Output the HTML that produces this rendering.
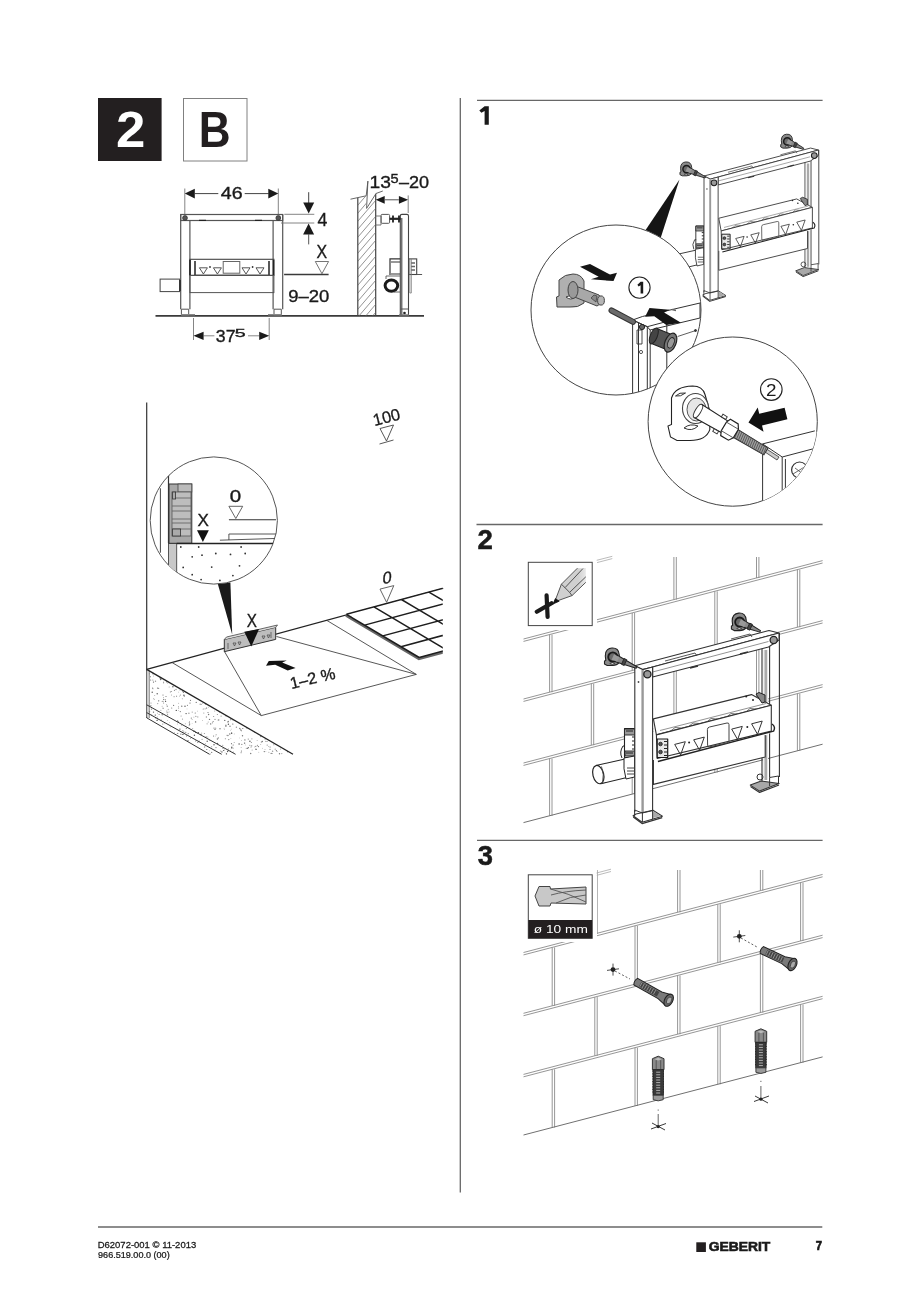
<!DOCTYPE html>
<html><head><meta charset="utf-8">
<style>
html,body{margin:0;padding:0;background:#fff;}
body{width:920px;height:1291px;overflow:hidden;position:relative;}
svg{position:absolute;left:0;top:0;will-change:transform;}
text{font-family:"Liberation Sans",sans-serif;}
</style></head>
<body>
<svg width="920" height="1291" viewBox="0 0 920 1291">
<defs><clipPath id="wallclip"><path d="M357.8 198 L366.3 196 L366.6 208.4 L375.7 194 V316 H357.8z"/></clipPath>
<clipPath id="circA"><circle cx="213.8" cy="520.5" r="63.6"/></clipPath>
<clipPath id="tileclip"><rect x="300" y="560" width="142.8" height="120"/></clipPath>
<clipPath id="slabclip"><path d="M149 670.9 L293 754.3 L149 754.3z"/></clipPath>
<pattern id="stip" width="7" height="7" patternUnits="userSpaceOnUse"><circle cx="1" cy="1" r="0.45" fill="#777"/><circle cx="4.5" cy="3.5" r="0.45" fill="#888"/><circle cx="2.5" cy="5.8" r="0.4" fill="#999"/></pattern>
<clipPath id="c1clip"><circle cx="616" cy="310" r="85"/></clipPath><clipPath id="c2clip"><circle cx="732.7" cy="421.6" r="84.6"/></clipPath>
<clipPath id="wall2clip"><rect x="523" y="550" width="300" height="280"/></clipPath>
<clipPath id="wall3clip"><rect x="523" y="865" width="300" height="275"/></clipPath></defs>
<rect x="98" y="98" width="63.6" height="63" fill="#231f20"/>
<text transform="translate(115.97 147.40) scale(1.065 1)" font-size="49.55" font-weight="bold" fill="#fff" stroke="none" >2</text>
<rect x="183.5" y="98.5" width="63.5" height="62.5" fill="none" stroke="#808080" stroke-width="1"/>
<text transform="translate(198.85 147.40) scale(0.877 1)" font-size="50.29" font-weight="bold" fill="#231f20" stroke="none" >B</text>
<path d="M460.3 98 V1192.6" stroke="#676767" stroke-width="1.3" fill="none"/>
<path d="M477 100.3 H822.6" stroke="#676767" stroke-width="1.3" fill="none"/>
<path d="M476.5 524.5 H822.6" stroke="#676767" stroke-width="1.3" fill="none"/>
<path d="M477 840.3 H822.6" stroke="#676767" stroke-width="1.3" fill="none"/>
<path d="M98 1227 H822.3" stroke="#676767" stroke-width="1.3" fill="none"/>
<path d="M484.6 106.2 H488.8 V124.8 H484.6 V111.1 L481.4 112.8 L479.3 110.5 Z" fill="#1a1a1a"/>
<text transform="translate(477.44 549.40) scale(1.021 1)" font-size="27.07" font-weight="bold" fill="#1a1a1a" stroke="#1a1a1a" stroke-width="0.5">2</text>
<text transform="translate(477.67 865.19) scale(1.006 1)" font-size="27.20" font-weight="bold" fill="#1a1a1a" stroke="#1a1a1a" stroke-width="0.5">3</text>
<text transform="translate(97.72 1248.01) scale(1.066 1)" font-size="8.90" fill="#1a1a1a" stroke="#1a1a1a" stroke-width="0.25">D62072-001 © 11-2013</text>
<text transform="translate(98.07 1258.12) scale(1.073 1)" font-size="8.47" fill="#1a1a1a" stroke="#1a1a1a" stroke-width="0.25">966.519.00.0 (00)</text>
<rect x="696.3" y="1242.3" width="9.6" height="9.7" fill="#231f20"/>
<text transform="translate(708.63 1251.48) scale(1.117 1)" font-size="12.43" font-weight="bold" fill="#1a1a1a" stroke="#1a1a1a" stroke-width="0.6">GEBERIT</text>
<text transform="translate(815.81 1250.40) scale(0.904 1)" font-size="12.50" font-weight="bold" fill="#1a1a1a" stroke="#1a1a1a" stroke-width="0.7">7</text>

<g id="dimdraw" fill="none" stroke="#3a3a3a" stroke-width="1">
  <line x1="155.5" y1="315.9" x2="424" y2="315.9" stroke="#3a3a3a" stroke-width="1.6"/>
  <rect x="180.7" y="214.5" width="102" height="6" stroke="#555" stroke-width="1.2"/>
  <path d="M180.7 214.5 V309.2 M189.9 220.5 V309.2 M273.1 220.5 V309.2 M282.7 214.5 V309.2" stroke="#555" stroke-width="1.2"/>
  <path d="M181.4 309.2 h7.3 v6 h-7.3z M274 309.2 h7.3 v6 h-7.3z" stroke="#555" stroke-width="1"/>
  <path d="M181 314.8 h14 M268 314.8 h14" stroke="#888" stroke-width="1.4"/>
  <circle cx="185" cy="218" r="2.4" fill="#555" stroke="#333" stroke-width="0.8"/>
  <circle cx="278.3" cy="218" r="2.4" fill="#555" stroke="#333" stroke-width="0.8"/>
  <path d="M199 220.3 h7 M255 220.3 h7" stroke="#222" stroke-width="1.3"/>
  <rect x="189.9" y="259.3" width="84" height="16.1" stroke="#444" stroke-width="1.1"/>
  <line x1="196" y1="275.4" x2="268" y2="275.4" stroke="#222" stroke-width="1.4"/>
  <rect x="189.9" y="275.4" width="84" height="17.2" stroke="#555" stroke-width="1"/>
  <rect x="223.2" y="261.5" width="16.6" height="11.7" stroke="#666" stroke-width="1"/>
  <path d="M199.4 267.8 h8 l-4 6.2z M213.4 267.8 h8 l-4 6.2z M242 267.8 h8 l-4 6.2z M256 267.8 h8 l-4 6.2z" stroke="#444" stroke-width="0.9"/>
  <circle cx="210" cy="267" r="0.9" fill="#333" stroke="none"/>
  <circle cx="252.6" cy="267" r="0.9" fill="#333" stroke="none"/>
  <path d="M190 260 v15 M195 261 v14 M269 261 v14 M273.5 260 v15" stroke="#222" stroke-width="1.5"/>
  <rect x="160.1" y="279.1" width="19.6" height="12.5" stroke="#444" stroke-width="1"/>
  <path d="M180 280 v11" stroke="#222" stroke-width="1.4"/>
  <path d="M184.8 188.5 V214 M278.3 188.5 V214" stroke="#666" stroke-width="0.8"/>
  <path d="M194.8 193.6 H218.3 M244.7 193.6 H268.7" stroke="#444" stroke-width="1"/>
  <path d="M184.8 193.6 l10 -4.8 v9.6z M278.3 193.6 l-10 -4.8 v9.6z" fill="#1a1a1a" stroke="none"/>
  <path d="M284.3 214.3 H314.3 M281 223 H314.3" stroke="#777" stroke-width="0.9"/>
  <path d="M308.7 192.2 V203" stroke="#444" stroke-width="1"/>
  <path d="M303.2 202.4 h11 l-5.5 11z M303.1 234.5 h11 l-5.5 -11.1z" fill="#1a1a1a" stroke="none"/>
  <path d="M308.7 234 V244.4" stroke="#555" stroke-width="1"/>
  <path d="M315.3 261.5 h13.3 l-6.65 12.2z" stroke="#666" stroke-width="0.9"/>
  <path d="M284.1 274.6 H328.6" stroke="#3a3a3a" stroke-width="1.5"/>
  <path d="M193.5 318 V340 M269.2 318 V340" stroke="#777" stroke-width="0.9"/>
  <path d="M203.6 335.8 H214.4 M248 335.8 H259.3" stroke="#888" stroke-width="1"/>
  <path d="M193.5 335.8 l10.1 -4.1 v8.2z M269.2 335.8 l-10 -4.1 v8.2z" fill="#1a1a1a" stroke="none"/>
  <path d="M357.8 197.8 V315.9 M375.7 193.8 V315.9" stroke="#444" stroke-width="1.2"/>
  <path d="M350.5 199.2 L366.2 195.8 L367.9 181.1 L366.6 208.4 L376 193.5 L382.8 191" stroke="#555" stroke-width="0.9"/>
  <g stroke="#666" stroke-width="0.7" clip-path="url(#wallclip)"><path d="M340 210 l60 -70 M340 218 l60 -70 M340 226 l60 -70 M340 234 l60 -70 M340 242 l60 -70 M340 250 l60 -70 M340 258 l60 -70 M340 266 l60 -70 M340 274 l60 -70 M340 282 l60 -70 M340 290 l60 -70 M340 298 l60 -70 M340 306 l60 -70 M340 314 l60 -70 M340 322 l60 -70 M340 330 l60 -70 M340 338 l60 -70 M340 346 l60 -70 M340 354 l60 -70 M340 362 l60 -70 M340 370 l60 -70 M340 378 l60 -70 M340 386 l60 -70 M340 394 l60 -70"/></g>
  <path d="M375.7 199.8 l9 -3.9 v7.8z M408.2 199.8 l-9.3 -3.9 v7.8z" fill="#1a1a1a" stroke="none"/>
  <path d="M384.7 199.8 H398.9" stroke="#555" stroke-width="1"/>
  <path d="M408.2 195.4 V213" stroke="#777" stroke-width="0.9"/>
  <path d="M400.3 315 V216 q0 -1.6 1.6 -1.6 h5 q1.6 0 1.6 1.6 V315 M401.8 218 V315" stroke="#444" stroke-width="1.1"/>
  <rect x="381.1" y="214.4" width="8.5" height="8.9" rx="1" stroke="#555" stroke-width="1"/>
  <path d="M376 216 h5 v9 h-5" stroke="#666" stroke-width="0.9"/>
  <path d="M389.6 218.8 h11" stroke="#222" stroke-width="2.2"/>
  <path d="M393 215.5 v7 M399 215.5 v7" stroke="#222" stroke-width="1.8"/>
  <path d="M390 275 V258.9 h10.3 M391 262 h9 M391 274 h9" stroke="#333" stroke-width="1.2"/>
  <ellipse cx="391.4" cy="285.6" rx="6.3" ry="5.6" stroke="#1a1a1a" stroke-width="3"/>
  <path d="M386 279 v-3 h14 M394 292 h6" stroke="#555" stroke-width="0.9"/>
  <rect x="408.7" y="258.9" width="8" height="15.6" stroke="#444" stroke-width="1.1"/>
  <path d="M411 263 h4 M411 266.5 h4 M411 270 h4" stroke="#666" stroke-width="1.4"/>
  <path d="M416.7 274.5 h5.4" stroke="#555" stroke-width="1"/>
  <path d="M409.8 259 V293 h1.5 V259" stroke="#777" stroke-width="0.8"/>
  <path d="M400.8 309 h7.5" stroke="#555" stroke-width="1"/><circle cx="404.5" cy="313" r="1.3" fill="#222" stroke="none"/><path d="M399 315 h10" stroke="#777" stroke-width="1.4"/>
  <text transform="translate(220.75 199.34) scale(1.187 1)" font-size="16.53" fill="#1a1a1a" stroke="#1a1a1a" stroke-width="0.35">46</text>
  <text transform="translate(317.39 225.70) scale(0.996 1)" font-size="17.73" fill="#1a1a1a" stroke="#1a1a1a" stroke-width="0.35">4</text>
  <text transform="translate(316.44 258.00) scale(0.874 1)" font-size="18.17" fill="#1a1a1a" stroke="#1a1a1a" stroke-width="0.35">X</text>
  <text transform="translate(288.13 302.03) scale(1.075 1)" font-size="17.23" fill="#1a1a1a" stroke="#1a1a1a" stroke-width="0.35">9–20</text>
  <text transform="translate(215.83 341.84) scale(1.052 1)" font-size="16.81" fill="#1a1a1a" stroke="#1a1a1a" stroke-width="0.35">37</text>
  <text transform="translate(234.81 336.69) scale(1.669 1)" font-size="11.75" fill="#1a1a1a" stroke="#1a1a1a" stroke-width="0.35">5</text>
  <text transform="translate(369.53 187.84) scale(1.165 1)" font-size="16.53" fill="#1a1a1a" stroke="#1a1a1a" stroke-width="0.35">13</text>
  <text transform="translate(390.52 183.08) scale(1.209 1)" font-size="12.04" fill="#1a1a1a" stroke="#1a1a1a" stroke-width="0.35">5</text>
  <text transform="translate(398.90 187.84) scale(1.092 1)" font-size="16.53" fill="#1a1a1a" stroke="#1a1a1a" stroke-width="0.35">–20</text>
</g>
<g fill="none" stroke="#2a2a2a" stroke-width="1">
<path d="M146.7 402.5 V718" stroke="#333" stroke-width="1.2"/>
<path d="M146.7 670 V718 M149.2 671 V718" stroke="#444" stroke-width="0.8"/>
<rect x="146.7" y="670.5" width="2.5" height="47" fill="#ccc" stroke="none"/>
<g stroke="none"><circle cx="157.4" cy="713.1" r="0.4" fill="#555"/><circle cx="162.1" cy="706.2" r="0.4" fill="#555"/><circle cx="157.9" cy="719.6" r="0.4" fill="#555"/><circle cx="166.0" cy="696.6" r="0.5" fill="#555"/><circle cx="232.8" cy="724.0" r="0.6" fill="#555"/><circle cx="157.6" cy="688.1" r="0.7" fill="#777"/><circle cx="216.0" cy="747.6" r="0.6" fill="#777"/><circle cx="192.2" cy="712.1" r="0.6" fill="#999"/><circle cx="213.6" cy="721.5" r="0.4" fill="#555"/><circle cx="209.7" cy="750.8" r="0.4" fill="#999"/><circle cx="231.5" cy="743.7" r="0.6" fill="#777"/><circle cx="270.0" cy="749.4" r="0.7" fill="#999"/><circle cx="190.0" cy="703.0" r="0.6" fill="#555"/><circle cx="180.4" cy="694.9" r="0.5" fill="#777"/><circle cx="205.3" cy="743.3" r="0.4" fill="#555"/><circle cx="213.7" cy="716.6" r="0.5" fill="#777"/><circle cx="276.3" cy="750.5" r="0.5" fill="#555"/><circle cx="174.4" cy="690.3" r="0.5" fill="#555"/><circle cx="218.8" cy="719.9" r="0.6" fill="#777"/><circle cx="149.6" cy="705.8" r="0.6" fill="#999"/><circle cx="230.6" cy="750.1" r="0.4" fill="#777"/><circle cx="205.5" cy="704.1" r="0.4" fill="#777"/><circle cx="158.7" cy="688.3" r="0.5" fill="#555"/><circle cx="163.6" cy="701.2" r="0.4" fill="#555"/><circle cx="170.4" cy="691.9" r="0.6" fill="#999"/><circle cx="271.2" cy="753.4" r="0.7" fill="#777"/><circle cx="163.7" cy="699.4" r="0.6" fill="#777"/><circle cx="225.0" cy="752.2" r="0.4" fill="#999"/><circle cx="181.1" cy="716.0" r="0.6" fill="#999"/><circle cx="265.1" cy="738.9" r="0.5" fill="#555"/><circle cx="153.2" cy="673.3" r="0.6" fill="#777"/><circle cx="186.3" cy="728.5" r="0.6" fill="#777"/><circle cx="160.6" cy="679.5" r="0.7" fill="#555"/><circle cx="197.6" cy="711.1" r="0.4" fill="#777"/><circle cx="241.6" cy="740.3" r="0.4" fill="#777"/><circle cx="264.3" cy="751.6" r="0.7" fill="#777"/><circle cx="206.8" cy="749.6" r="0.5" fill="#555"/><circle cx="153.0" cy="688.7" r="0.5" fill="#999"/><circle cx="195.9" cy="716.2" r="0.5" fill="#555"/><circle cx="215.0" cy="719.4" r="0.7" fill="#999"/><circle cx="167.8" cy="683.6" r="0.4" fill="#777"/><circle cx="169.4" cy="722.4" r="0.4" fill="#999"/><circle cx="260.8" cy="744.3" r="0.4" fill="#555"/><circle cx="163.1" cy="708.5" r="0.4" fill="#555"/><circle cx="212.8" cy="721.8" r="0.5" fill="#999"/><circle cx="188.9" cy="713.2" r="0.7" fill="#999"/><circle cx="275.2" cy="749.2" r="0.6" fill="#999"/><circle cx="179.6" cy="696.1" r="0.4" fill="#555"/><circle cx="168.8" cy="709.8" r="0.4" fill="#777"/><circle cx="250.7" cy="753.5" r="0.7" fill="#777"/><circle cx="162.3" cy="701.4" r="0.6" fill="#999"/><circle cx="215.0" cy="729.4" r="0.7" fill="#777"/><circle cx="267.0" cy="741.5" r="0.6" fill="#777"/><circle cx="231.2" cy="729.1" r="0.4" fill="#777"/><circle cx="197.8" cy="716.9" r="0.6" fill="#999"/><circle cx="167.6" cy="714.7" r="0.5" fill="#555"/><circle cx="178.6" cy="708.0" r="0.5" fill="#777"/><circle cx="176.3" cy="710.4" r="0.7" fill="#555"/><circle cx="277.0" cy="751.5" r="0.6" fill="#999"/><circle cx="180.0" cy="690.1" r="0.5" fill="#999"/><circle cx="239.1" cy="744.0" r="0.7" fill="#555"/><circle cx="203.8" cy="713.0" r="0.6" fill="#999"/><circle cx="183.9" cy="695.3" r="0.7" fill="#555"/><circle cx="171.7" cy="708.0" r="0.6" fill="#777"/><circle cx="287.5" cy="751.7" r="0.6" fill="#555"/><circle cx="189.2" cy="725.4" r="0.5" fill="#999"/><circle cx="192.1" cy="723.3" r="0.4" fill="#999"/><circle cx="230.9" cy="738.5" r="0.4" fill="#999"/><circle cx="233.1" cy="745.1" r="0.5" fill="#555"/><circle cx="153.5" cy="682.0" r="0.6" fill="#555"/><circle cx="203.2" cy="708.5" r="0.4" fill="#999"/><circle cx="151.7" cy="715.1" r="0.5" fill="#777"/><circle cx="187.0" cy="708.9" r="0.4" fill="#999"/><circle cx="162.2" cy="714.7" r="0.7" fill="#777"/><circle cx="265.5" cy="741.2" r="0.5" fill="#999"/><circle cx="177.6" cy="720.8" r="0.6" fill="#777"/><circle cx="242.8" cy="728.5" r="0.5" fill="#555"/><circle cx="218.5" cy="711.3" r="0.4" fill="#999"/><circle cx="180.3" cy="711.6" r="0.6" fill="#777"/><circle cx="216.1" cy="734.7" r="0.5" fill="#777"/><circle cx="151.5" cy="709.1" r="0.7" fill="#777"/><circle cx="204.7" cy="747.1" r="0.5" fill="#555"/><circle cx="224.5" cy="750.1" r="0.5" fill="#999"/><circle cx="149.5" cy="711.8" r="0.7" fill="#777"/><circle cx="257.1" cy="740.6" r="0.4" fill="#555"/><circle cx="251.7" cy="745.8" r="0.6" fill="#777"/><circle cx="202.6" cy="703.6" r="0.4" fill="#777"/><circle cx="194.4" cy="735.2" r="0.7" fill="#555"/><circle cx="280.5" cy="749.1" r="0.5" fill="#999"/><circle cx="208.2" cy="722.0" r="0.5" fill="#999"/><circle cx="173.6" cy="705.4" r="0.6" fill="#777"/><circle cx="185.8" cy="732.3" r="0.6" fill="#777"/><circle cx="279.5" cy="753.7" r="0.7" fill="#777"/><circle cx="169.1" cy="687.0" r="0.4" fill="#555"/><circle cx="183.4" cy="692.4" r="0.5" fill="#555"/><circle cx="208.6" cy="714.5" r="0.7" fill="#777"/><circle cx="167.1" cy="712.8" r="0.5" fill="#555"/><circle cx="206.6" cy="708.0" r="0.6" fill="#555"/><circle cx="167.3" cy="706.3" r="0.7" fill="#999"/><circle cx="213.6" cy="736.0" r="0.5" fill="#555"/><circle cx="249.9" cy="741.3" r="0.7" fill="#555"/><circle cx="185.3" cy="723.8" r="0.4" fill="#555"/><circle cx="159.1" cy="714.5" r="0.5" fill="#777"/><circle cx="186.6" cy="736.6" r="0.4" fill="#555"/><circle cx="226.4" cy="753.7" r="0.6" fill="#777"/><circle cx="241.8" cy="744.4" r="0.7" fill="#999"/><circle cx="182.8" cy="691.5" r="0.7" fill="#999"/><circle cx="181.8" cy="706.2" r="0.6" fill="#555"/><circle cx="220.0" cy="728.8" r="0.7" fill="#777"/><circle cx="180.9" cy="734.1" r="0.6" fill="#555"/><circle cx="176.0" cy="689.5" r="0.7" fill="#999"/><circle cx="157.1" cy="720.4" r="0.7" fill="#555"/><circle cx="157.7" cy="703.6" r="0.6" fill="#999"/><circle cx="172.9" cy="686.8" r="0.7" fill="#555"/><circle cx="193.9" cy="731.2" r="0.6" fill="#777"/><circle cx="160.3" cy="677.7" r="0.7" fill="#555"/><circle cx="229.8" cy="734.0" r="0.7" fill="#777"/><circle cx="195.6" cy="732.2" r="0.7" fill="#555"/><circle cx="203.1" cy="709.5" r="0.4" fill="#777"/><circle cx="248.3" cy="747.7" r="0.6" fill="#555"/><circle cx="265.0" cy="749.6" r="0.4" fill="#555"/><circle cx="260.8" cy="736.6" r="0.7" fill="#777"/><circle cx="168.1" cy="712.2" r="0.4" fill="#999"/><circle cx="192.7" cy="728.4" r="0.5" fill="#999"/><circle cx="215.4" cy="736.1" r="0.4" fill="#999"/><circle cx="177.4" cy="733.5" r="0.5" fill="#777"/><circle cx="161.1" cy="679.0" r="0.7" fill="#999"/><circle cx="168.1" cy="709.3" r="0.5" fill="#999"/><circle cx="226.6" cy="735.2" r="0.4" fill="#777"/><circle cx="191.3" cy="718.1" r="0.6" fill="#777"/><circle cx="217.4" cy="739.0" r="0.7" fill="#777"/><circle cx="154.8" cy="695.4" r="0.4" fill="#555"/><circle cx="233.0" cy="748.2" r="0.6" fill="#999"/><circle cx="186.4" cy="735.6" r="0.4" fill="#555"/><circle cx="240.8" cy="729.9" r="0.6" fill="#555"/><circle cx="154.4" cy="699.2" r="0.4" fill="#555"/><circle cx="254.4" cy="746.9" r="0.4" fill="#777"/><circle cx="153.5" cy="712.1" r="0.7" fill="#555"/><circle cx="207.8" cy="737.1" r="0.5" fill="#999"/><circle cx="225.9" cy="725.2" r="0.7" fill="#999"/><circle cx="205.3" cy="704.6" r="0.4" fill="#777"/><circle cx="228.4" cy="724.2" r="0.7" fill="#555"/><circle cx="231.5" cy="748.0" r="0.5" fill="#555"/><circle cx="204.3" cy="733.5" r="0.5" fill="#777"/><circle cx="204.9" cy="746.1" r="0.5" fill="#999"/><circle cx="207.2" cy="741.2" r="0.7" fill="#555"/><circle cx="205.1" cy="708.8" r="0.6" fill="#999"/><circle cx="209.5" cy="719.4" r="0.7" fill="#777"/><circle cx="182.9" cy="734.4" r="0.7" fill="#555"/><circle cx="158.7" cy="700.8" r="0.6" fill="#555"/><circle cx="194.2" cy="730.8" r="0.4" fill="#555"/><circle cx="257.3" cy="745.3" r="0.5" fill="#555"/><circle cx="272.4" cy="753.7" r="0.4" fill="#555"/><circle cx="190.5" cy="738.3" r="0.5" fill="#999"/><circle cx="262.5" cy="748.2" r="0.4" fill="#777"/><circle cx="195.6" cy="721.9" r="0.7" fill="#555"/><circle cx="218.1" cy="720.1" r="0.5" fill="#777"/><circle cx="207.1" cy="723.8" r="0.6" fill="#999"/><circle cx="196.2" cy="702.3" r="0.6" fill="#555"/><circle cx="272.6" cy="751.2" r="0.7" fill="#999"/><circle cx="224.1" cy="728.2" r="0.4" fill="#777"/><circle cx="205.8" cy="737.2" r="0.6" fill="#777"/><circle cx="200.9" cy="734.5" r="0.7" fill="#555"/><circle cx="174.5" cy="732.7" r="0.4" fill="#777"/><circle cx="241.1" cy="752.7" r="0.6" fill="#999"/><circle cx="149.3" cy="673.8" r="0.5" fill="#777"/><circle cx="222.8" cy="745.3" r="0.5" fill="#777"/><circle cx="181.7" cy="725.2" r="0.4" fill="#555"/><circle cx="149.4" cy="700.5" r="0.4" fill="#999"/><circle cx="233.0" cy="719.9" r="0.5" fill="#777"/><circle cx="162.8" cy="724.0" r="0.6" fill="#777"/><circle cx="265.9" cy="751.3" r="0.4" fill="#999"/><circle cx="267.2" cy="745.1" r="0.7" fill="#999"/><circle cx="155.3" cy="715.1" r="0.7" fill="#555"/><circle cx="228.3" cy="749.1" r="0.5" fill="#777"/><circle cx="177.7" cy="721.5" r="0.7" fill="#999"/><circle cx="174.1" cy="696.7" r="0.6" fill="#999"/><circle cx="197.3" cy="733.2" r="0.6" fill="#999"/><circle cx="246.8" cy="727.9" r="0.6" fill="#777"/><circle cx="241.4" cy="751.1" r="0.5" fill="#555"/><circle cx="256.1" cy="749.4" r="0.6" fill="#555"/><circle cx="239.8" cy="728.5" r="0.7" fill="#777"/><circle cx="152.9" cy="679.9" r="0.5" fill="#777"/><circle cx="153.4" cy="682.5" r="0.4" fill="#999"/><circle cx="225.9" cy="726.1" r="0.7" fill="#555"/><circle cx="199.5" cy="748.2" r="0.4" fill="#999"/><circle cx="258.4" cy="746.6" r="0.7" fill="#777"/><circle cx="208.5" cy="707.2" r="0.4" fill="#777"/><circle cx="230.5" cy="730.3" r="0.4" fill="#999"/><circle cx="258.8" cy="752.2" r="0.4" fill="#777"/><circle cx="179.9" cy="729.1" r="0.7" fill="#555"/><circle cx="164.8" cy="723.8" r="0.4" fill="#777"/><circle cx="200.2" cy="704.3" r="0.7" fill="#999"/><circle cx="152.6" cy="688.1" r="0.6" fill="#777"/><circle cx="203.6" cy="744.4" r="0.5" fill="#777"/><circle cx="167.3" cy="720.3" r="0.4" fill="#777"/><circle cx="215.7" cy="728.2" r="0.6" fill="#999"/><circle cx="182.3" cy="698.7" r="0.5" fill="#999"/><circle cx="176.6" cy="696.0" r="0.5" fill="#999"/><circle cx="171.5" cy="691.5" r="0.6" fill="#999"/><circle cx="163.6" cy="702.9" r="0.5" fill="#777"/><circle cx="177.3" cy="724.0" r="0.4" fill="#777"/><circle cx="178.7" cy="703.2" r="0.4" fill="#555"/><circle cx="206.5" cy="736.7" r="0.5" fill="#999"/><circle cx="152.2" cy="692.3" r="0.7" fill="#555"/><circle cx="255.7" cy="746.4" r="0.7" fill="#999"/><circle cx="231.7" cy="733.2" r="0.7" fill="#555"/><circle cx="249.9" cy="745.3" r="0.5" fill="#777"/><circle cx="185.0" cy="706.2" r="0.7" fill="#555"/><circle cx="246.2" cy="748.2" r="0.5" fill="#999"/><circle cx="268.8" cy="746.4" r="0.4" fill="#555"/><circle cx="252.1" cy="750.0" r="0.5" fill="#999"/><circle cx="199.1" cy="741.3" r="0.7" fill="#999"/><circle cx="178.5" cy="710.5" r="0.4" fill="#999"/><circle cx="198.4" cy="732.6" r="0.7" fill="#555"/><circle cx="223.0" cy="748.4" r="0.6" fill="#999"/><circle cx="157.2" cy="693.8" r="0.7" fill="#555"/><circle cx="150.9" cy="705.7" r="0.7" fill="#999"/><circle cx="255.8" cy="749.0" r="0.5" fill="#777"/><circle cx="241.5" cy="730.8" r="0.5" fill="#777"/><circle cx="244.9" cy="739.9" r="0.7" fill="#777"/><circle cx="242.5" cy="735.7" r="0.7" fill="#777"/><circle cx="218.3" cy="737.9" r="0.6" fill="#777"/><circle cx="184.3" cy="696.1" r="0.7" fill="#777"/><circle cx="210.7" cy="723.9" r="0.6" fill="#555"/><circle cx="163.6" cy="682.8" r="0.5" fill="#555"/><circle cx="169.1" cy="711.9" r="0.4" fill="#777"/><circle cx="219.8" cy="712.3" r="0.4" fill="#555"/><circle cx="230.0" cy="726.2" r="0.7" fill="#777"/><circle cx="210.3" cy="754.0" r="0.4" fill="#555"/><circle cx="247.3" cy="748.3" r="0.6" fill="#555"/><circle cx="197.8" cy="742.5" r="0.6" fill="#777"/><circle cx="217.3" cy="714.6" r="0.5" fill="#777"/><circle cx="228.8" cy="739.6" r="0.6" fill="#777"/><circle cx="221.9" cy="751.9" r="0.7" fill="#555"/><circle cx="192.1" cy="719.7" r="0.4" fill="#555"/><circle cx="206.4" cy="717.0" r="0.7" fill="#999"/><circle cx="221.1" cy="716.1" r="0.7" fill="#999"/><circle cx="170.2" cy="726.9" r="0.4" fill="#555"/><circle cx="244.6" cy="743.1" r="0.7" fill="#555"/><circle cx="202.1" cy="739.3" r="0.6" fill="#999"/><circle cx="251.3" cy="742.6" r="0.5" fill="#777"/><circle cx="230.6" cy="719.0" r="0.4" fill="#777"/><circle cx="231.8" cy="747.2" r="0.7" fill="#555"/><circle cx="151.0" cy="703.1" r="0.5" fill="#777"/><circle cx="160.9" cy="710.2" r="0.5" fill="#999"/><circle cx="183.9" cy="731.9" r="0.5" fill="#555"/><circle cx="201.7" cy="733.0" r="0.5" fill="#999"/><circle cx="245.4" cy="744.9" r="0.4" fill="#999"/><circle cx="153.6" cy="676.0" r="0.4" fill="#777"/><circle cx="193.8" cy="731.5" r="0.5" fill="#777"/><circle cx="188.2" cy="733.6" r="0.6" fill="#777"/><circle cx="189.3" cy="722.6" r="0.6" fill="#999"/><circle cx="233.2" cy="752.0" r="0.5" fill="#777"/><circle cx="214.0" cy="728.1" r="0.6" fill="#777"/><circle cx="227.9" cy="735.5" r="0.7" fill="#777"/><circle cx="226.0" cy="715.8" r="0.7" fill="#777"/><circle cx="177.9" cy="733.3" r="0.5" fill="#777"/><circle cx="236.4" cy="727.2" r="0.7" fill="#999"/><circle cx="178.7" cy="692.1" r="0.4" fill="#777"/><circle cx="182.5" cy="719.1" r="0.6" fill="#999"/><circle cx="195.2" cy="713.0" r="0.5" fill="#555"/><circle cx="261.3" cy="742.1" r="0.5" fill="#555"/><circle cx="189.4" cy="721.4" r="0.4" fill="#555"/><circle cx="230.4" cy="719.7" r="0.5" fill="#777"/><circle cx="163.0" cy="708.1" r="0.5" fill="#777"/><circle cx="153.0" cy="673.9" r="0.6" fill="#999"/><circle cx="215.0" cy="749.6" r="0.4" fill="#999"/><circle cx="241.1" cy="747.5" r="0.4" fill="#777"/><circle cx="182.9" cy="730.8" r="0.5" fill="#555"/><circle cx="157.5" cy="716.9" r="0.4" fill="#555"/><circle cx="186.1" cy="713.6" r="0.7" fill="#555"/><circle cx="163.6" cy="697.4" r="0.4" fill="#555"/><circle cx="234.2" cy="733.9" r="0.4" fill="#777"/><circle cx="166.9" cy="710.9" r="0.5" fill="#777"/><circle cx="273.8" cy="744.8" r="0.5" fill="#777"/><circle cx="165.6" cy="701.4" r="0.6" fill="#555"/><circle cx="214.0" cy="744.8" r="0.7" fill="#555"/><circle cx="187.4" cy="705.2" r="0.5" fill="#555"/><circle cx="188.0" cy="740.7" r="0.6" fill="#555"/><circle cx="214.7" cy="711.0" r="0.5" fill="#999"/><circle cx="163.0" cy="695.0" r="0.5" fill="#555"/><circle cx="268.9" cy="752.2" r="0.5" fill="#999"/><circle cx="211.7" cy="746.7" r="0.5" fill="#777"/><circle cx="160.4" cy="678.3" r="0.7" fill="#777"/><circle cx="176.7" cy="696.6" r="0.4" fill="#555"/><circle cx="270.1" cy="747.0" r="0.6" fill="#777"/><circle cx="189.6" cy="724.1" r="0.7" fill="#555"/><circle cx="217.6" cy="743.4" r="0.6" fill="#555"/><circle cx="202.4" cy="720.4" r="0.4" fill="#777"/><circle cx="251.9" cy="738.8" r="0.6" fill="#999"/><circle cx="193.9" cy="717.1" r="0.4" fill="#555"/><circle cx="224.3" cy="729.3" r="0.4" fill="#777"/><circle cx="155.5" cy="681.2" r="0.7" fill="#999"/><circle cx="166.6" cy="704.7" r="0.5" fill="#999"/><circle cx="234.2" cy="742.5" r="0.5" fill="#999"/><circle cx="231.5" cy="733.0" r="0.5" fill="#555"/><circle cx="209.5" cy="740.7" r="0.4" fill="#777"/><circle cx="201.3" cy="704.3" r="0.6" fill="#999"/><circle cx="211.7" cy="752.4" r="0.6" fill="#777"/><circle cx="223.5" cy="750.5" r="0.6" fill="#555"/><circle cx="150.7" cy="680.0" r="0.5" fill="#555"/><circle cx="239.5" cy="737.9" r="0.4" fill="#999"/><circle cx="163.5" cy="681.1" r="0.4" fill="#777"/><circle cx="165.3" cy="699.8" r="0.5" fill="#555"/><circle cx="161.2" cy="720.0" r="0.5" fill="#777"/><circle cx="166.8" cy="681.9" r="0.6" fill="#777"/><circle cx="255.0" cy="732.5" r="0.6" fill="#777"/><circle cx="227.9" cy="721.9" r="0.7" fill="#777"/><circle cx="153.5" cy="698.7" r="0.5" fill="#999"/><circle cx="227.6" cy="751.5" r="0.7" fill="#555"/><circle cx="228.4" cy="721.3" r="0.6" fill="#777"/><circle cx="178.2" cy="721.7" r="0.6" fill="#999"/><circle cx="281.8" cy="753.6" r="0.6" fill="#999"/><circle cx="251.0" cy="746.9" r="0.5" fill="#777"/><circle cx="220.7" cy="750.9" r="0.5" fill="#777"/><circle cx="190.5" cy="700.3" r="0.6" fill="#777"/><circle cx="224.8" cy="720.4" r="0.6" fill="#555"/><circle cx="262.3" cy="741.5" r="0.7" fill="#777"/><circle cx="231.9" cy="719.3" r="0.4" fill="#777"/><circle cx="195.6" cy="741.0" r="0.5" fill="#777"/><circle cx="178.4" cy="706.4" r="0.4" fill="#555"/><circle cx="155.8" cy="717.9" r="0.7" fill="#777"/><circle cx="226.5" cy="753.9" r="0.7" fill="#777"/><circle cx="150.5" cy="676.7" r="0.5" fill="#555"/><circle cx="208.0" cy="712.6" r="0.5" fill="#555"/><circle cx="212.4" cy="722.8" r="0.6" fill="#999"/><circle cx="225.3" cy="738.7" r="0.5" fill="#777"/><circle cx="248.3" cy="739.1" r="0.7" fill="#999"/><circle cx="171.5" cy="695.1" r="0.5" fill="#999"/></g>
<path d="M146.7 669.4 L293 754.3" stroke="#222" stroke-width="1.3"/>
<path d="M146.7 704.8 L235.6 754.3 M146.7 712.6 L221.7 754.3 M146.7 717.8 L209.6 754.3" stroke="#333" stroke-width="1"/>
<path d="M146.7 669.4 L443.2 588.5" stroke="#222" stroke-width="1.2"/>
<path d="M172.0 662.5 L261.3 715.6 M224.2 651.0 L261.3 715.6 M261.3 715.6 L416.3 674.4 M276.5 636.5 L416.3 674.4 M327.0 620.5 L416.3 674.4" stroke="#444" stroke-width="0.9"/>
<g clip-path="url(#tileclip)">
<path d="M346.4 614.3 L483.9 577.3 L556.7 620.5 L419.2 657.5 z" fill="#fff" stroke="none"/>
<path d="M345.9 615.5 L418.9 658.8 L556.7 621.8" stroke="#666" stroke-width="2.6"/>
<path d="M346.4 614.3 L483.9 577.3 M364.6 625.1 L502.1 588.1 M382.8 635.9 L520.3 598.9 M401.0 646.7 L538.5 609.7 M419.2 657.5 L556.7 620.5 M346.4 614.3 L419.2 657.5 M373.9 606.9 L446.7 650.1 M401.4 599.5 L474.2 642.7 M428.9 592.1 L501.7 635.3 M456.4 584.7 L529.2 627.9 M483.9 577.3 L556.7 620.5" stroke="#1e1e1e" stroke-width="1.5"/>
</g>
<path d="M380 589.1 L393.8 585.6 L386.6 602.3z" stroke="#555" stroke-width="0.9"/>
<text transform="translate(382.2 584.1) rotate(-8) skewX(-12)" font-size="16.5" fill="#1a1a1a" stroke="#1a1a1a" stroke-width="0.3">0</text>
<path d="M224.3 639.5 L275.7 627.3 L275.7 639.4 L224.3 651.7z" fill="#bdbdbd" stroke="#333" stroke-width="1"/>
<path d="M224.3 639.5 L226.5 637 L277.5 625 L275.7 627.3" fill="#ddd" stroke="#444" stroke-width="0.8"/>
<path d="M228 643 v6 M271 632 v6 M233 643 h3 l-1.5 3z M238 642 h3 l-1.5 3z M262 636 h3 l-1.5 3z M267 635 h3 l-1.5 3z" stroke="#444" stroke-width="0.7"/>
<path d="M244.3 631.7 L259.1 629.1 L251.3 646.5z" fill="#111" stroke="none"/>
<text transform="translate(246.66 627.40) scale(0.800 1)" font-size="19.04" fill="#1a1a1a" stroke="#1a1a1a" stroke-width="0.35">X</text>
<path d="M217.4 582.5 L230.4 582.5 L232.2 634.5z" fill="#1a1a1a" stroke="none"/>
<path d="M266 665.7 L268.8 661.1 L286.8 660.4 L282.2 662.5 L295.6 668 L287.7 670.5 L275.2 664.8z" fill="#111" stroke="none"/>
<text transform="translate(291.6 689) rotate(-13.5)" font-size="16.2" fill="#1a1a1a" stroke="#1a1a1a" stroke-width="0.35">1–2 %</text>
<text transform="translate(374.5 426) rotate(-14)" font-size="16.5" fill="#1a1a1a" stroke="#1a1a1a" stroke-width="0.3">100</text>
<path d="M380 428.5 L393.5 425 L386.5 441z M379.5 444 L393.5 440" stroke="#444" stroke-width="0.9"/>
<circle cx="213.8" cy="520.5" r="63.6" fill="#fff" stroke="#555" stroke-width="1"/>
<g clip-path="url(#circA)">
<path d="M160.4 488.3 V552.7" stroke="#444" stroke-width="1"/>
<rect x="168.5" y="543.3" width="8.2" height="40" fill="#c8c8c8" stroke="#444" stroke-width="0.9"/>
<path d="M168.5 470 V543" stroke="#333" stroke-width="1.2"/>
<rect x="169" y="484" width="22.8" height="59.3" fill="#a8a8a8" stroke="#333" stroke-width="1"/>
<rect x="178" y="484" width="13.8" height="8" fill="#bbb" stroke="#444" stroke-width="0.8"/>
<rect x="172" y="492" width="19" height="44" fill="#bdbdbd" stroke="#555" stroke-width="0.8"/><path d="M172 498 h19 M172 506 h19 M172 511 h19 M172 519 h19 M172 523 h19 M172 529 h19" stroke="#666" stroke-width="0.9"/>
<rect x="172.6" y="492" width="3" height="7" fill="#aaa" stroke="#333" stroke-width="0.8"/>
<rect x="172.6" y="529" width="8" height="7" fill="#aaa" stroke="#333" stroke-width="0.8"/>
<path d="M176.7 543.5 H290" stroke="#222" stroke-width="1.6"/>
<path d="M219.9 540.2 L290 538 M228.9 534 H290 M228.9 534 V540" stroke="#444" stroke-width="0.9"/>
<g fill="#333" stroke="none"><circle cx="180.8" cy="547.0" r="0.9"/><circle cx="198.7" cy="547.0" r="0.9"/><circle cx="241.1" cy="547.0" r="0.9"/><circle cx="192.2" cy="556.8" r="0.9"/><circle cx="202.0" cy="555.2" r="0.9"/><circle cx="215.8" cy="553.5" r="0.9"/><circle cx="230.5" cy="554.4" r="0.9"/><circle cx="245.2" cy="553.5" r="0.9"/><circle cx="183.2" cy="567.4" r="0.9"/><circle cx="211.7" cy="567.1" r="0.9"/><circle cx="239.5" cy="565.8" r="0.9"/><circle cx="192.2" cy="574.7" r="0.9"/><circle cx="201.1" cy="579.6" r="0.9"/><circle cx="219.9" cy="580.4" r="0.9"/><circle cx="232.9" cy="575.6" r="0.9"/></g>
<path d="M228.9 506.3 H242.7 L235.8 518.5z" stroke="#555" stroke-width="0.9"/>
<path d="M228.9 519.8 H276" stroke="#333" stroke-width="1.1"/>
<path d="M197 530.2 H208.8 L202.9 542.1z" fill="#111" stroke="none"/>
</g>
<text transform="translate(229.70 502.04) scale(1.273 1)" font-size="16.10" fill="#1a1a1a" stroke="#1a1a1a" stroke-width="0.35">0</text>
<text transform="translate(197.52 526.30) scale(0.983 1)" font-size="17.30" fill="#1a1a1a" stroke="#1a1a1a" stroke-width="0.35">X</text>
</g>
<g transform="translate(704 176) scale(0.794) translate(-634.8 -665.7)">
<g fill="none" stroke="#2a2a2a" stroke-width="1" stroke-linejoin="round">
<path d="M596 765.5 L625 759 L629 777 L601.3 783.6z" fill="#fff" stroke="none"/>
<path d="M596 765.5 L625 759 M601.3 783.6 L629 777" stroke="#222" stroke-width="1.1"/>
<ellipse cx="598.3" cy="774.6" rx="5.4" ry="9.3" transform="rotate(-14 598.3 774.6)" fill="#fff" stroke="#222" stroke-width="1.2"/>
<path d="M601.5 766.5 q3 8 1 17" stroke="#444" stroke-width="0.9"/>
<path d="M624.5 728.5 h10.2 v29 h-10.2z" fill="#fff" stroke="#222" stroke-width="1.1"/>
<path d="M624.5 729 h10 v6 h-10z M625 751 h9.5 v5 h-9.5z" fill="#999" stroke="#222" stroke-width="0.9"/><path d="M626 731 h7 M626 753 h7" stroke="#222" stroke-width="1"/>
<path d="M632 737 h2.5 M632 741 h2.5 M632 745 h2.5 M632 749 h2.5" stroke="#222" stroke-width="1.2"/>
<path d="M624 758 L634.5 756 V777 L626 779 q-3 -10 -2 -21z" fill="#fff" stroke="#222" stroke-width="1"/>
<path d="M627 768 h7.5 M627 771 h7.5 M627 774 h7.5" stroke="#444" stroke-width="1"/>
<path d="M622 758 q-3 -6 1 -12 l2 0" stroke="#222" stroke-width="1"/>
<path d="M762 647 V783 M769.6 633 V777.5 M779.4 633 V777" stroke="#333" stroke-width="1.1"/>
<rect x="763" y="650" width="5" height="130" fill="#f0f0f0" stroke="none"/>
<path d="M765.8 650 V780" stroke="#aaa" stroke-width="2.6"/>
<path d="M750.3 785.1 L761.2 781 L779.1 783.5 L759.6 791.1z" fill="#a8a8a8" stroke="#333" stroke-width="1.1"/>
<path d="M750.5 786.5 L759.6 792.4 L779 785" stroke="#333" stroke-width="1.2"/>
<path d="M769.6 777.5 L778.5 776 V784 M769.6 777.5 V786" stroke="#333" stroke-width="1"/>
<path d="M757 777 a3 3 0 1 0 6 0 a3 3 0 1 0 -6 0" stroke="#333" stroke-width="1"/>
<path d="M634.8 665.7 L769 630.5 L779 633 L652.6 667 L642.6 669.6z" fill="#fff" stroke="#333" stroke-width="1.1"/>
<path d="M652.6 667 L779 633 L779 640 L768.5 647 L652.6 677z" fill="#fff" stroke="#333" stroke-width="1.1"/>
<path d="M652.6 672 L768.5 641.5" stroke="#777" stroke-width="0.8"/>
<path d="M665 661 L695 653 L697 656 M731 639 L750 634 L752 637" stroke="#444" stroke-width="0.9"/>
<path d="M690 668 l8 -2 M740 654 l8 -2" stroke="#333" stroke-width="1.4"/>
<circle cx="773.7" cy="640" r="3.6" fill="#999" stroke="#222" stroke-width="1.3"/>
<path d="M653.4 718.9 L751.5 694.6 L771.3 705.2 L773.6 731 L765.2 736 L765.2 757 L653.4 784.4z" fill="#fff" stroke="none"/>
<path d="M653.4 718.9 L751.5 694.6 L771.3 705.2 L656.4 734.9z" fill="#fff" stroke="#333" stroke-width="1.1"/>
<path d="M660 730.5 L766 703.5" stroke="#777" stroke-width="0.8"/>
<path d="M670 731.5 l5 -4 l6 0.5 M688 727 l5 -4 l6 0.5 M706 722.5 l5 -4 l6 0.5 M726 717.5 l5 -4 l6 0.5 M745 712.5 l5 -4 l6 0.5" stroke="#555" stroke-width="0.8"/>
<circle cx="746.2" cy="696.5" r="1" fill="#222" stroke="none"/><circle cx="753" cy="700" r="1" fill="#222" stroke="none"/>
<path d="M656.4 734.9 L771.3 705.2 L771.3 731.1 L657.2 758.5z" fill="#fff" stroke="#333" stroke-width="1.1"/>
<path d="M657.9 761.5 L773.6 731.1 Q776 727 772 724" stroke="#222" stroke-width="1.4"/>
<path d="M653.4 760 V784.4 L765.2 757 V735" stroke="#333" stroke-width="1.1"/>
<path d="M707.4 729.5 Q707.4 727.5 709.5 727 L727 723 Q729 722.6 729 724.6 L729 740.5 Q729 742.5 727 743 L709.6 746.8 Q707.6 747.2 707.6 745.2z" stroke="#444" stroke-width="1"/>
<path d="M674.7 744.4 L685.3 741.7 L680.6 754.9z" stroke="#333" stroke-width="1"/>
<path d="M693.7 739.8 L704.3 737.1 L699.6 750.3z" stroke="#333" stroke-width="1"/>
<path d="M731.7 729.1 L742.3 726.4 L737.6 739.6z" stroke="#333" stroke-width="1"/>
<path d="M751.6 723.8 L762.2 721.1 L757.5 734.3z" stroke="#333" stroke-width="1"/>
<circle cx="689.1" cy="742.5" r="1" fill="#222" stroke="none"/><circle cx="747.3" cy="727" r="1" fill="#222" stroke="none"/>
<path d="M657.2 739 h10.5 v18.5 h-10.5z" fill="#e8e8e8" stroke="#1a1a1a" stroke-width="1.2"/>
<circle cx="660.5" cy="744" r="1.8" fill="#555" stroke="#1a1a1a" stroke-width="0.8"/><circle cx="660.5" cy="752" r="1.8" fill="#555" stroke="#1a1a1a" stroke-width="0.8"/>
<path d="M664 741.5 h3 M664 745 h3 M664 748.5 h3 M664 752 h3 M664 755.5 h3" stroke="#222" stroke-width="1.1"/>
<path d="M756 694 l3 -1.5 l6 2.5 v7 l-3 1z" fill="#888" stroke="#222" stroke-width="1"/>
<path d="M634.8 665.7 L642.6 669.6 L652.6 667 L652.6 812 L642.6 815 L634.8 812z" fill="#fff" stroke="none"/>
<path d="M634.8 665.7 V812 M652.6 667 V812 M634.8 665.7 L642.6 669.6 L652.6 667" stroke="#333" stroke-width="1.1"/>
<path d="M642.6 670 V813" stroke="#999" stroke-width="2.4"/>
<circle cx="647.4" cy="674.3" r="3.6" fill="#999" stroke="#222" stroke-width="1.3"/>
<circle cx="638.5" cy="682" r="0.9" fill="#444" stroke="none"/>
<path d="M633.1 815.7 L636 814 L652.9 810.3 L662.4 816.3 L642.1 822.3z" fill="#fff" stroke="#333" stroke-width="1.1"/>
<path d="M633.3 817 L642.1 823.6 L662.2 817.6" stroke="#333" stroke-width="1.3"/>
<path d="M653 811 L661 816 L653 818z" fill="#aaa" stroke="none"/>
<path d="M634.6 810 L642.4 813 L652.6 810.6 M634.6 810 V816 M652.6 810.6 V819.5 M642.4 813 V822" stroke="#333" stroke-width="1"/>
<g transform="translate(612.8 657.0)">
<path d="M-7.5 -1 Q-7.5 -8.5 -1 -9 Q6 -9.5 6.5 -2 L6.5 5.5 Q4 8.5 0 8.5 L-5.5 8.5 L-8.3 7 L-8.3 4 L-7 3.5z" fill="#8a8a8a" stroke="#222" stroke-width="1.1"/>
<path d="M-3 6.5 q2.5 -2 5 0 q-2.5 2 -5 0" fill="#ddd" stroke="#333" stroke-width="0.8"/>
<g transform="rotate(23.9)">
<path d="M0 -3.8 L14.3 -2.2 L25.9 -0.8 L25.9 0.8 L14.3 2.2 L0 3.8z" fill="#8a8a8a" stroke="#222" stroke-width="1"/>
<rect x="10.9" y="-3.2" width="3" height="6.4" fill="#444" stroke="#222" stroke-width="0.8"/>
</g>
<circle cx="0" cy="0" r="4.6" fill="#6a6a6a" stroke="#1a1a1a" stroke-width="1.8"/>
<g transform="rotate(23.9)"><path d="M0 -3 L6 -2.6 L6 2.6 L0 3z" fill="#9a9a9a" stroke="none"/></g>
</g>
<g transform="translate(739.7 622.1)">
<path d="M-7.5 -1 Q-7.5 -8.5 -1 -9 Q6 -9.5 6.5 -2 L6.5 5.5 Q4 8.5 0 8.5 L-5.5 8.5 L-8.3 7 L-8.3 4 L-7 3.5z" fill="#8a8a8a" stroke="#222" stroke-width="1.1"/>
<path d="M-3 6.5 q2.5 -2 5 0 q-2.5 2 -5 0" fill="#ddd" stroke="#333" stroke-width="0.8"/>
<g transform="rotate(24.4)">
<path d="M0 -3.8 L12.4 -2.2 L22.5 -0.8 L22.5 0.8 L12.4 2.2 L0 3.8z" fill="#8a8a8a" stroke="#222" stroke-width="1"/>
<rect x="9.5" y="-3.2" width="3" height="6.4" fill="#444" stroke="#222" stroke-width="0.8"/>
</g>
<circle cx="0" cy="0" r="4.6" fill="#6a6a6a" stroke="#1a1a1a" stroke-width="1.8"/>
<g transform="rotate(24.4)"><path d="M0 -3 L6 -2.6 L6 2.6 L0 3z" fill="#9a9a9a" stroke="none"/></g>
</g>
</g>
</g>
<path d="M645.6 230 L660.8 237.6 L679.5 179.4z" fill="#151515"/>
<circle cx="616" cy="310" r="85" fill="#fff" stroke="#444" stroke-width="1"/>
<g clip-path="url(#c1clip)" fill="none" stroke="#2a2a2a" stroke-width="1">
<path d="M632.6 320 L642.4 316.5 L700 303 L700 318 L650 330 L647.3 326.7z" fill="#fff" stroke="#333" stroke-width="1"/>
<path d="M632.6 320 L647.3 326.7 L666.8 321.5 M632.6 320 V400 M638.5 323 V400 M647.3 326.7 V400 M650.2 330 V400 M666.8 321.5 V400" stroke="#333" stroke-width="1"/>
<path d="M637 330 h5 v14 h-5z" stroke="#333" stroke-width="0.9"/>
<circle cx="641" cy="352" r="1.6" stroke="#444" stroke-width="0.9"/>
<circle cx="642" cy="327" r="2.6" fill="#666" stroke="#222" stroke-width="1"/>
<path d="M672 309.5 l4 1" stroke="#666" stroke-width="1.5"/>
<path d="M611.5 310.5 L633 321.8" stroke="#333" stroke-width="6" stroke-linecap="round"/>
<path d="M611.5 310.5 L633 321.8" stroke="#6a6a6a" stroke-width="4" stroke-linecap="round"/>
<g transform="translate(664 340) rotate(22)">
<rect x="-12" y="-8" width="18" height="16" rx="3" fill="#555" stroke="#222" stroke-width="1.1"/>
<ellipse cx="7" cy="0" rx="5.5" ry="10" fill="#777" stroke="#222" stroke-width="1.2"/>
<ellipse cx="7.5" cy="0" rx="3" ry="5.5" fill="#999" stroke="#222" stroke-width="0.9"/>
<ellipse cx="-11" cy="0" rx="3.5" ry="8.5" fill="#444" stroke="#222" stroke-width="1"/>
</g>
<path d="M677.6 336.5 L695.2 330.7" stroke="#333" stroke-width="0.8"/><circle cx="695.5" cy="330.5" r="1" fill="#333"/>
<path d="M559 280 q6 -6 14 -6 q8 0 11 7 L584 303 q-6 5 -14 4 L557 307 L556.5 297 L559 296z" fill="#b0b0b0" stroke="#444" stroke-width="1"/>
<path d="M566 297 q4 -3 9 0 q-4 4 -9 0" fill="#fff" stroke="#333" stroke-width="0.9"/>
<path d="M573 285 L599 295 L603 302 L597 306 L572 296z" fill="#a8a8a8" stroke="#444" stroke-width="1"/>
<ellipse cx="573" cy="290" rx="5" ry="8.5" fill="#999" stroke="#444" stroke-width="1"/>
<ellipse cx="601" cy="300.5" rx="3.4" ry="4.6" fill="#b5b5b5" stroke="#444" stroke-width="1"/><path d="M591 298 l3 -3 l3 1 l-1 6z" fill="#888" stroke="#444" stroke-width="0.8"/>
</g>
<path d="M580 266.7 L590 264.1 L610 274.6 L617 272.8 L613.5 281.1 L590.9 279.3 L598.7 276.7z" fill="#151515"/>
<path d="M645.1 316.7 L649.5 308 L669.6 309.7 L664.1 312.4 L681 322.7 L666.3 324.9 L654.3 316.2z" fill="#151515"/>
<circle cx="639.5" cy="287.6" r="10.6" fill="#fff" stroke="#222" stroke-width="1.1"/>
<path d="M640.6 281.8 H643.2 V293.4 H640.6 V285.2 L638.6 286.4 L637.4 284.8 Z" fill="#1a1a1a"/>
<circle cx="732.7" cy="421.6" r="84.6" fill="#fff" stroke="#444" stroke-width="1"/>
<g clip-path="url(#c2clip)" fill="none" stroke="#2a2a2a" stroke-width="1">
<path d="M762.6 443.9 L814.8 430.9 L820 433 V520 H762.6z" fill="#fff" stroke="none"/>
<path d="M762.6 443.9 L814.8 430.9 M762.6 443.9 L782.2 457 L820 447 M762.6 443.9 V520 M782.2 457 V520 M785.4 459 V520" stroke="#333" stroke-width="1"/>
<path d="M765 448 l14 9 l-2 3 l-12 -8z" fill="#ccc" stroke="#333" stroke-width="0.8"/>
<circle cx="799.6" cy="470" r="8" stroke="#333" stroke-width="1.2"/><path d="M793 474 l13 -8 M795 468 l8 6" stroke="#444" stroke-width="0.8"/>
<path d="M671.5 398 Q675 386.5 692.6 386 Q702.5 386 705 394.5 L709.8 411 L709.8 429.6 Q706 440.5 690 440.5 L677 440.5 L670.5 437 L668 426 L671.5 424.5z" fill="#fff" stroke="#222" stroke-width="1.1"/>
<path d="M675.5 396 q4 -4 10 -3 q-5 4 -10 3z M684 428 q6 -5 14 -2 q-6 6 -14 2z" fill="#fff" stroke="#333" stroke-width="1"/>
<ellipse cx="695.5" cy="408.5" rx="13" ry="15" fill="#fff" stroke="#444" stroke-width="1.1"/>
<ellipse cx="696.5" cy="409.5" rx="9.5" ry="11.5" fill="#e6e6e6" stroke="#555" stroke-width="1"/>
<g transform="translate(695.5 409.5) rotate(30.8)">
<path d="M3 -7.6 L38 -6.5 L38 6.5 L3 7.6z" fill="#fff" stroke="#222" stroke-width="1.1"/>
<ellipse cx="3" cy="0" rx="2.8" ry="7.6" fill="#fff" stroke="#333" stroke-width="1"/>
<path d="M46 -4.6 L82 -4 L82 4 L46 4.6z" fill="#a0a0a0" stroke="#333" stroke-width="1"/>
<path d="M47.0 -4.4 l1.2 8.8" stroke="#444" stroke-width="0.7"/><path d="M49.2 -4.4 l1.2 8.8" stroke="#444" stroke-width="0.7"/><path d="M51.4 -4.4 l1.2 8.8" stroke="#444" stroke-width="0.7"/><path d="M53.6 -4.4 l1.2 8.8" stroke="#444" stroke-width="0.7"/><path d="M55.8 -4.4 l1.2 8.8" stroke="#444" stroke-width="0.7"/><path d="M58.0 -4.4 l1.2 8.8" stroke="#444" stroke-width="0.7"/><path d="M60.2 -4.4 l1.2 8.8" stroke="#444" stroke-width="0.7"/><path d="M62.4 -4.4 l1.2 8.8" stroke="#444" stroke-width="0.7"/><path d="M64.6 -4.4 l1.2 8.8" stroke="#444" stroke-width="0.7"/><path d="M66.8 -4.4 l1.2 8.8" stroke="#444" stroke-width="0.7"/><path d="M69.0 -4.4 l1.2 8.8" stroke="#444" stroke-width="0.7"/><path d="M71.2 -4.4 l1.2 8.8" stroke="#444" stroke-width="0.7"/><path d="M73.4 -4.4 l1.2 8.8" stroke="#444" stroke-width="0.7"/><path d="M75.6 -4.4 l1.2 8.8" stroke="#444" stroke-width="0.7"/><path d="M77.8 -4.4 l1.2 8.8" stroke="#444" stroke-width="0.7"/><path d="M80.0 -4.4 l1.2 8.8" stroke="#444" stroke-width="0.7"/>
<path d="M35 -9.5 L44 -9.5 L47 -5 L47 5 L44 9.5 L35 9.5 L33 5 L33 -5z" fill="#fff" stroke="#222" stroke-width="1.2"/>
<path d="M33 -5 H47 M33 5 H47" stroke="#444" stroke-width="0.8"/>
<path d="M26 -10 h5 v3 h-5z M26 7 h5 v3 h-5z" fill="#fff" stroke="#333" stroke-width="0.9"/>
</g>
</g>
<path transform="translate(786.0 413.5) rotate(166.50)" d="M0 -6.0 L26.1 -6.0 L26.1 -12.5 L38.6 0 L26.1 12.5 L26.1 6.0 L0 6.0z" fill="#111" stroke="none"/>
<circle cx="771.3" cy="389.6" r="10.8" fill="#fff" stroke="#222" stroke-width="1.1"/>
<text transform="translate(766.05 395.60) scale(1.098 1)" font-size="17.19" fill="#1a1a1a" stroke="none" >2</text>
<g clip-path="url(#wall2clip)">
<path d="M523.5 639.0 L822.6 560.6 M523.5 641.4 L822.6 563.0 M523.5 699.0 L822.6 620.6 M523.5 701.4 L822.6 623.0 M523.5 763.0 L822.6 684.6 M523.5 765.4 L822.6 687.0 M591.3 557.0 V621.2 M593.7 557.0 V621.2 M673.9 557.0 V599.6 M676.3 557.0 V599.6 M756.5 557.0 V578.0 M758.9 557.0 V578.0 M549.6 634.6 V692.2 M552.0 634.6 V692.2 M632.2 612.9 V670.5 M634.6 612.9 V670.5 M714.8 591.3 V648.9 M717.2 591.3 V648.9 M797.4 569.6 V627.2 M799.8 569.6 V627.2 M591.3 683.6 V745.2 M593.7 683.6 V745.2 M673.9 662.0 V723.6 M676.3 662.0 V723.6 M756.5 640.4 V702.0 M758.9 640.4 V702.0 M549.6 758.6 V815.8 M552.0 758.6 V815.8 M632.2 736.9 V794.1 M634.6 736.9 V794.1 M714.8 715.3 V772.5 M717.2 715.3 V772.5 M797.4 693.6 V750.8 M799.8 693.6 V750.8" fill="none" stroke="#8a8a8a" stroke-width="0.9"/><path d="M523.5 822.6 L822.6 744.2" fill="none" stroke="#707070" stroke-width="1"/>
</g>
<g fill="none" stroke="#2a2a2a" stroke-width="1" stroke-linejoin="round">
<path d="M596 765.5 L625 759 L629 777 L601.3 783.6z" fill="#fff" stroke="none"/>
<path d="M596 765.5 L625 759 M601.3 783.6 L629 777" stroke="#222" stroke-width="1.1"/>
<ellipse cx="598.3" cy="774.6" rx="5.4" ry="9.3" transform="rotate(-14 598.3 774.6)" fill="#fff" stroke="#222" stroke-width="1.2"/>
<path d="M601.5 766.5 q3 8 1 17" stroke="#444" stroke-width="0.9"/>
<path d="M624.5 728.5 h10.2 v29 h-10.2z" fill="#fff" stroke="#222" stroke-width="1.1"/>
<path d="M624.5 729 h10 v6 h-10z M625 751 h9.5 v5 h-9.5z" fill="#999" stroke="#222" stroke-width="0.9"/><path d="M626 731 h7 M626 753 h7" stroke="#222" stroke-width="1"/>
<path d="M632 737 h2.5 M632 741 h2.5 M632 745 h2.5 M632 749 h2.5" stroke="#222" stroke-width="1.2"/>
<path d="M624 758 L634.5 756 V777 L626 779 q-3 -10 -2 -21z" fill="#fff" stroke="#222" stroke-width="1"/>
<path d="M627 768 h7.5 M627 771 h7.5 M627 774 h7.5" stroke="#444" stroke-width="1"/>
<path d="M622 758 q-3 -6 1 -12 l2 0" stroke="#222" stroke-width="1"/>
<path d="M762 647 V783 M769.6 633 V777.5 M779.4 633 V777" stroke="#333" stroke-width="1.1"/>
<rect x="763" y="650" width="5" height="130" fill="#f0f0f0" stroke="none"/>
<path d="M765.8 650 V780" stroke="#aaa" stroke-width="2.6"/>
<path d="M750.3 785.1 L761.2 781 L779.1 783.5 L759.6 791.1z" fill="#a8a8a8" stroke="#333" stroke-width="1.1"/>
<path d="M750.5 786.5 L759.6 792.4 L779 785" stroke="#333" stroke-width="1.2"/>
<path d="M769.6 777.5 L778.5 776 V784 M769.6 777.5 V786" stroke="#333" stroke-width="1"/>
<path d="M757 777 a3 3 0 1 0 6 0 a3 3 0 1 0 -6 0" stroke="#333" stroke-width="1"/>
<path d="M634.8 665.7 L769 630.5 L779 633 L652.6 667 L642.6 669.6z" fill="#fff" stroke="#333" stroke-width="1.1"/>
<path d="M652.6 667 L779 633 L779 640 L768.5 647 L652.6 677z" fill="#fff" stroke="#333" stroke-width="1.1"/>
<path d="M652.6 672 L768.5 641.5" stroke="#777" stroke-width="0.8"/>
<path d="M665 661 L695 653 L697 656 M731 639 L750 634 L752 637" stroke="#444" stroke-width="0.9"/>
<path d="M690 668 l8 -2 M740 654 l8 -2" stroke="#333" stroke-width="1.4"/>
<circle cx="773.7" cy="640" r="3.6" fill="#999" stroke="#222" stroke-width="1.3"/>
<path d="M653.4 718.9 L751.5 694.6 L771.3 705.2 L773.6 731 L765.2 736 L765.2 757 L653.4 784.4z" fill="#fff" stroke="none"/>
<path d="M653.4 718.9 L751.5 694.6 L771.3 705.2 L656.4 734.9z" fill="#fff" stroke="#333" stroke-width="1.1"/>
<path d="M660 730.5 L766 703.5" stroke="#777" stroke-width="0.8"/>
<path d="M670 731.5 l5 -4 l6 0.5 M688 727 l5 -4 l6 0.5 M706 722.5 l5 -4 l6 0.5 M726 717.5 l5 -4 l6 0.5 M745 712.5 l5 -4 l6 0.5" stroke="#555" stroke-width="0.8"/>
<circle cx="746.2" cy="696.5" r="1" fill="#222" stroke="none"/><circle cx="753" cy="700" r="1" fill="#222" stroke="none"/>
<path d="M656.4 734.9 L771.3 705.2 L771.3 731.1 L657.2 758.5z" fill="#fff" stroke="#333" stroke-width="1.1"/>
<path d="M657.9 761.5 L773.6 731.1 Q776 727 772 724" stroke="#222" stroke-width="1.4"/>
<path d="M653.4 760 V784.4 L765.2 757 V735" stroke="#333" stroke-width="1.1"/>
<path d="M707.4 729.5 Q707.4 727.5 709.5 727 L727 723 Q729 722.6 729 724.6 L729 740.5 Q729 742.5 727 743 L709.6 746.8 Q707.6 747.2 707.6 745.2z" stroke="#444" stroke-width="1"/>
<path d="M674.7 744.4 L685.3 741.7 L680.6 754.9z" stroke="#333" stroke-width="1"/>
<path d="M693.7 739.8 L704.3 737.1 L699.6 750.3z" stroke="#333" stroke-width="1"/>
<path d="M731.7 729.1 L742.3 726.4 L737.6 739.6z" stroke="#333" stroke-width="1"/>
<path d="M751.6 723.8 L762.2 721.1 L757.5 734.3z" stroke="#333" stroke-width="1"/>
<circle cx="689.1" cy="742.5" r="1" fill="#222" stroke="none"/><circle cx="747.3" cy="727" r="1" fill="#222" stroke="none"/>
<path d="M657.2 739 h10.5 v18.5 h-10.5z" fill="#e8e8e8" stroke="#1a1a1a" stroke-width="1.2"/>
<circle cx="660.5" cy="744" r="1.8" fill="#555" stroke="#1a1a1a" stroke-width="0.8"/><circle cx="660.5" cy="752" r="1.8" fill="#555" stroke="#1a1a1a" stroke-width="0.8"/>
<path d="M664 741.5 h3 M664 745 h3 M664 748.5 h3 M664 752 h3 M664 755.5 h3" stroke="#222" stroke-width="1.1"/>
<path d="M756 694 l3 -1.5 l6 2.5 v7 l-3 1z" fill="#888" stroke="#222" stroke-width="1"/>
<path d="M634.8 665.7 L642.6 669.6 L652.6 667 L652.6 812 L642.6 815 L634.8 812z" fill="#fff" stroke="none"/>
<path d="M634.8 665.7 V812 M652.6 667 V812 M634.8 665.7 L642.6 669.6 L652.6 667" stroke="#333" stroke-width="1.1"/>
<path d="M642.6 670 V813" stroke="#999" stroke-width="2.4"/>
<circle cx="647.4" cy="674.3" r="3.6" fill="#999" stroke="#222" stroke-width="1.3"/>
<circle cx="638.5" cy="682" r="0.9" fill="#444" stroke="none"/>
<path d="M633.1 815.7 L636 814 L652.9 810.3 L662.4 816.3 L642.1 822.3z" fill="#fff" stroke="#333" stroke-width="1.1"/>
<path d="M633.3 817 L642.1 823.6 L662.2 817.6" stroke="#333" stroke-width="1.3"/>
<path d="M653 811 L661 816 L653 818z" fill="#aaa" stroke="none"/>
<path d="M634.6 810 L642.4 813 L652.6 810.6 M634.6 810 V816 M652.6 810.6 V819.5 M642.4 813 V822" stroke="#333" stroke-width="1"/>
<g transform="translate(612.8 657.0)">
<path d="M-7.5 -1 Q-7.5 -8.5 -1 -9 Q6 -9.5 6.5 -2 L6.5 5.5 Q4 8.5 0 8.5 L-5.5 8.5 L-8.3 7 L-8.3 4 L-7 3.5z" fill="#8a8a8a" stroke="#222" stroke-width="1.1"/>
<path d="M-3 6.5 q2.5 -2 5 0 q-2.5 2 -5 0" fill="#ddd" stroke="#333" stroke-width="0.8"/>
<g transform="rotate(23.9)">
<path d="M0 -3.8 L14.3 -2.2 L25.9 -0.8 L25.9 0.8 L14.3 2.2 L0 3.8z" fill="#8a8a8a" stroke="#222" stroke-width="1"/>
<rect x="10.9" y="-3.2" width="3" height="6.4" fill="#444" stroke="#222" stroke-width="0.8"/>
</g>
<circle cx="0" cy="0" r="4.6" fill="#6a6a6a" stroke="#1a1a1a" stroke-width="1.8"/>
<g transform="rotate(23.9)"><path d="M0 -3 L6 -2.6 L6 2.6 L0 3z" fill="#9a9a9a" stroke="none"/></g>
</g>
<g transform="translate(739.7 622.1)">
<path d="M-7.5 -1 Q-7.5 -8.5 -1 -9 Q6 -9.5 6.5 -2 L6.5 5.5 Q4 8.5 0 8.5 L-5.5 8.5 L-8.3 7 L-8.3 4 L-7 3.5z" fill="#8a8a8a" stroke="#222" stroke-width="1.1"/>
<path d="M-3 6.5 q2.5 -2 5 0 q-2.5 2 -5 0" fill="#ddd" stroke="#333" stroke-width="0.8"/>
<g transform="rotate(24.4)">
<path d="M0 -3.8 L12.4 -2.2 L22.5 -0.8 L22.5 0.8 L12.4 2.2 L0 3.8z" fill="#8a8a8a" stroke="#222" stroke-width="1"/>
<rect x="9.5" y="-3.2" width="3" height="6.4" fill="#444" stroke="#222" stroke-width="0.8"/>
</g>
<circle cx="0" cy="0" r="4.6" fill="#6a6a6a" stroke="#1a1a1a" stroke-width="1.8"/>
<g transform="rotate(24.4)"><path d="M0 -3 L6 -2.6 L6 2.6 L0 3z" fill="#9a9a9a" stroke="none"/></g>
</g>
</g>
<rect x="524" y="554" width="73" height="76" fill="#fff"/>
<path d="M596.7 560.3 L612.3 556.3 M597 562.6 L612.3 558.6" stroke="#aaa" stroke-width="0.8" fill="none"/>
<rect x="528.3" y="562.3" width="63.9" height="63.3" fill="#fff" stroke="#444" stroke-width="1"/>
<defs><linearGradient id="pfade" x1="0" y1="0" x2="1" y2="0"><stop offset="0.75" stop-color="#d0d0d0"/><stop offset="1" stop-color="#e8e8e8"/></linearGradient></defs>
<path d="M561.4 584.2 L577.4 568.2 L585.8 568 L585.8 582.3 L572 595.6 L554.7 601.8z" fill="url(#pfade)" stroke="none"/>
<path d="M561.4 584.2 L577.4 568.2 M572 595.6 L585.8 582.3 M565 587.7 L582.9 568.6 M569.6 592.4 L585.8 576.8" stroke="#444" stroke-width="0.9" fill="none"/>
<path d="M561.4 584.2 L565 587.7 L569.6 592.4 L572 595.6 M561.4 584.2 L554.7 601.8 L572 595.6" stroke="#444" stroke-width="0.9" fill="none"/>
<path d="M553 604 L555.4 598.6 L559.2 601.2z" fill="#111" stroke="#111" stroke-width="0.8"/>
<path d="M546.6 595.3 L547.6 617" stroke="#1a1a1a" stroke-width="4.2" stroke-linecap="round" fill="none"/>
<path d="M536.8 611.8 L551.5 603.2" stroke="#1a1a1a" stroke-width="4.2" stroke-linecap="round" fill="none"/>
<g clip-path="url(#wall3clip)">
<path d="M523.5 952.5 L822.6 874.4 M523.5 954.9 L822.6 876.8 M523.5 1013.3 L822.6 935.2 M523.5 1015.7 L822.6 937.6 M523.5 1074.4 L822.6 996.3 M523.5 1076.8 L822.6 998.7 M594.8 870.0 V933.9 M597.2 870.0 V933.9 M677.6 870.0 V912.3 M680.0 870.0 V912.3 M760.4 870.0 V890.7 M762.8 870.0 V890.7 M552.2 947.4 V1005.8 M554.6 947.4 V1005.8 M635.0 925.8 V984.2 M637.4 925.8 V984.2 M717.8 904.2 V962.6 M720.2 904.2 V962.6 M800.6 882.6 V941.0 M803.0 882.6 V941.0 M594.8 997.1 V1055.8 M597.2 997.1 V1055.8 M677.6 975.5 V1034.2 M680.0 975.5 V1034.2 M760.4 953.9 V1012.6 M762.8 953.9 V1012.6 M552.2 1069.3 V1127.5 M554.6 1069.3 V1127.5 M635.0 1047.7 V1105.9 M637.4 1047.7 V1105.9 M717.8 1026.1 V1084.3 M720.2 1026.1 V1084.3 M800.6 1004.5 V1062.7 M803.0 1004.5 V1062.7" fill="none" stroke="#8a8a8a" stroke-width="0.9"/><path d="M523.5 1135.0 L822.6 1056.9" fill="none" stroke="#707070" stroke-width="1"/>
</g>
<rect x="524" y="866" width="73" height="76" fill="#fff"/>
<path d="M596.5 873 L611 869.2 M596.8 875.3 L611 871.5" stroke="#aaa" stroke-width="0.8" fill="none"/>
<rect x="528.3" y="874.8" width="63.9" height="63.5" fill="#fff" stroke="#444" stroke-width="1"/>
<rect x="528.3" y="920" width="63.9" height="18.3" fill="#231f20"/>
<text transform="translate(533.70 933.29) scale(1.186 1)" font-size="11.58" fill="#fff" stroke="none" >ø 10 mm</text>
<path d="M535 896 L539 886.5 L550 886.5 L550.5 889 L586 887 L586 904 L551 903 L550 906 L539 906 z" fill="#c8c8c8" stroke="#444" stroke-width="1"/>
<path d="M550.5 889 Q568 893 586 902 M551 895 Q565 891 586 890 M556 903 Q570 896 586 895" stroke="#555" stroke-width="0.9" fill="none"/>
<path d="M607.0 970.4 L619.0 968.8 M613.0 963.6 V975.6" stroke="#222" stroke-width="0.8"/><circle cx="613.0" cy="969.6" r="2.4" fill="#222"/>
<path d="M615 971 L630 979" stroke="#333" stroke-width="0.8" stroke-dasharray="2 2"/>
<path d="M733.3 937.1 L745.3 935.5 M739.3 930.3 V942.3" stroke="#222" stroke-width="0.8"/><circle cx="739.3" cy="936.3" r="2.4" fill="#222"/>
<path d="M741 938 L757 947" stroke="#333" stroke-width="0.8" stroke-dasharray="2 2"/>
<g transform="translate(635.7 981.7) rotate(29.3)"><path d="M0 -3.8 Q-2.2 0 0 3.8 L27.8 3.8 L36.8 6 L36.8 -6 L27.8 -3.8z" fill="#7a7a7a" stroke="#222" stroke-width="1"/><rect x="5" y="-2.6" width="20.7" height="5.2" fill="#444" stroke="none"/><path d="M6.0 -2.4 v4.8" stroke="#aaa" stroke-width="0.7"/><path d="M8.6 -2.4 v4.8" stroke="#aaa" stroke-width="0.7"/><path d="M11.2 -2.4 v4.8" stroke="#aaa" stroke-width="0.7"/><path d="M13.8 -2.4 v4.8" stroke="#aaa" stroke-width="0.7"/><path d="M16.4 -2.4 v4.8" stroke="#aaa" stroke-width="0.7"/><path d="M19.0 -2.4 v4.8" stroke="#aaa" stroke-width="0.7"/><path d="M21.6 -2.4 v4.8" stroke="#aaa" stroke-width="0.7"/><ellipse cx="37.8" cy="0" rx="4" ry="6.6" fill="#666" stroke="#222" stroke-width="1.1"/><ellipse cx="38.3" cy="0" rx="2.2" ry="3.8" fill="#aaa" stroke="#333" stroke-width="0.7"/></g>
<g transform="translate(761.8 950.0) rotate(25.2)"><path d="M0 -3.8 Q-2.2 0 0 3.8 L23.9 3.8 L32.9 6 L32.9 -6 L23.9 -3.8z" fill="#7a7a7a" stroke="#222" stroke-width="1"/><rect x="5" y="-2.6" width="18.7" height="5.2" fill="#444" stroke="none"/><path d="M6.0 -2.4 v4.8" stroke="#aaa" stroke-width="0.7"/><path d="M8.6 -2.4 v4.8" stroke="#aaa" stroke-width="0.7"/><path d="M11.2 -2.4 v4.8" stroke="#aaa" stroke-width="0.7"/><path d="M13.8 -2.4 v4.8" stroke="#aaa" stroke-width="0.7"/><path d="M16.4 -2.4 v4.8" stroke="#aaa" stroke-width="0.7"/><path d="M19.0 -2.4 v4.8" stroke="#aaa" stroke-width="0.7"/><path d="M21.6 -2.4 v4.8" stroke="#aaa" stroke-width="0.7"/><ellipse cx="33.9" cy="0" rx="4" ry="6.6" fill="#666" stroke="#222" stroke-width="1.1"/><ellipse cx="34.4" cy="0" rx="2.2" ry="3.8" fill="#aaa" stroke="#333" stroke-width="0.7"/></g>
<path d="M652.4 1058.7 L658.2 1056.2 L664.0 1058.7 V1069.7 H652.4z" fill="#8a8a8a" stroke="#333" stroke-width="1"/><path d="M654.7 1059.2 L658.2 1057.8 L661.7 1059.2 L658.2 1060.6z" fill="#bbb" stroke="none"/><path d="M656.2 1060.2 V1069.2 M660.7 1060.2 V1069.2" stroke="#555" stroke-width="1"/><rect x="653.0" y="1069.7" width="10.4" height="25.5" fill="#3a3a3a" stroke="#222" stroke-width="0.8"/><path d="M656.2 1072.2 h4" stroke="#d0d0d0" stroke-width="0.8"/><path d="M656.2 1074.8 h4" stroke="#d0d0d0" stroke-width="0.8"/><path d="M656.2 1077.4 h4" stroke="#d0d0d0" stroke-width="0.8"/><path d="M656.2 1080.0 h4" stroke="#d0d0d0" stroke-width="0.8"/><path d="M656.2 1082.6 h4" stroke="#d0d0d0" stroke-width="0.8"/><path d="M656.2 1085.2 h4" stroke="#d0d0d0" stroke-width="0.8"/><path d="M656.2 1087.8 h4" stroke="#d0d0d0" stroke-width="0.8"/><path d="M656.2 1090.4 h4" stroke="#d0d0d0" stroke-width="0.8"/><path d="M656.2 1093.0 h4" stroke="#d0d0d0" stroke-width="0.8"/><path d="M652.4 1071.2 h0.8 M663.2 1071.2 h0.8" stroke="#222" stroke-width="1.2"/><path d="M652.4 1073.8 h0.8 M663.2 1073.8 h0.8" stroke="#222" stroke-width="1.2"/><path d="M652.4 1076.4 h0.8 M663.2 1076.4 h0.8" stroke="#222" stroke-width="1.2"/><path d="M652.4 1079.0 h0.8 M663.2 1079.0 h0.8" stroke="#222" stroke-width="1.2"/><path d="M652.4 1081.6 h0.8 M663.2 1081.6 h0.8" stroke="#222" stroke-width="1.2"/><path d="M652.4 1084.2 h0.8 M663.2 1084.2 h0.8" stroke="#222" stroke-width="1.2"/><path d="M652.4 1086.8 h0.8 M663.2 1086.8 h0.8" stroke="#222" stroke-width="1.2"/><path d="M652.4 1089.4 h0.8 M663.2 1089.4 h0.8" stroke="#222" stroke-width="1.2"/><path d="M652.4 1092.0 h0.8 M663.2 1092.0 h0.8" stroke="#222" stroke-width="1.2"/><path d="M653.2 1095.2 H663.2 V1099.7 Q658.2 1102.0 653.2 1099.7z" fill="#9a9a9a" stroke="#333" stroke-width="0.9"/>
<path d="M755.1 1031.3 L760.9 1028.8 L766.7 1031.3 V1042.3 H755.1z" fill="#8a8a8a" stroke="#333" stroke-width="1"/><path d="M757.4 1031.8 L760.9 1030.4 L764.4 1031.8 L760.9 1033.2z" fill="#bbb" stroke="none"/><path d="M758.9 1032.8 V1041.8 M763.4 1032.8 V1041.8" stroke="#555" stroke-width="1"/><rect x="755.7" y="1042.3" width="10.4" height="25.5" fill="#3a3a3a" stroke="#222" stroke-width="0.8"/><path d="M758.9 1044.8 h4" stroke="#d0d0d0" stroke-width="0.8"/><path d="M758.9 1047.4 h4" stroke="#d0d0d0" stroke-width="0.8"/><path d="M758.9 1050.0 h4" stroke="#d0d0d0" stroke-width="0.8"/><path d="M758.9 1052.6 h4" stroke="#d0d0d0" stroke-width="0.8"/><path d="M758.9 1055.2 h4" stroke="#d0d0d0" stroke-width="0.8"/><path d="M758.9 1057.8 h4" stroke="#d0d0d0" stroke-width="0.8"/><path d="M758.9 1060.4 h4" stroke="#d0d0d0" stroke-width="0.8"/><path d="M758.9 1063.0 h4" stroke="#d0d0d0" stroke-width="0.8"/><path d="M758.9 1065.6 h4" stroke="#d0d0d0" stroke-width="0.8"/><path d="M755.1 1043.8 h0.8 M765.9 1043.8 h0.8" stroke="#222" stroke-width="1.2"/><path d="M755.1 1046.4 h0.8 M765.9 1046.4 h0.8" stroke="#222" stroke-width="1.2"/><path d="M755.1 1049.0 h0.8 M765.9 1049.0 h0.8" stroke="#222" stroke-width="1.2"/><path d="M755.1 1051.6 h0.8 M765.9 1051.6 h0.8" stroke="#222" stroke-width="1.2"/><path d="M755.1 1054.2 h0.8 M765.9 1054.2 h0.8" stroke="#222" stroke-width="1.2"/><path d="M755.1 1056.8 h0.8 M765.9 1056.8 h0.8" stroke="#222" stroke-width="1.2"/><path d="M755.1 1059.4 h0.8 M765.9 1059.4 h0.8" stroke="#222" stroke-width="1.2"/><path d="M755.1 1062.0 h0.8 M765.9 1062.0 h0.8" stroke="#222" stroke-width="1.2"/><path d="M755.1 1064.6 h0.8 M765.9 1064.6 h0.8" stroke="#222" stroke-width="1.2"/><path d="M755.9 1067.8 H765.9 V1072.3 Q760.9 1074.6 755.9 1072.3z" fill="#9a9a9a" stroke="#333" stroke-width="0.9"/>
<path d="M658.2 1109.5 v1.2 M658.2 1114 V1127" stroke="#555" stroke-width="0.9"/>
<path d="M760.9 1080.8 v1.2 M760.9 1086 V1099" stroke="#555" stroke-width="0.9"/>
<path d="M651 1129 L666 1123.5 M652 1123 L665 1130" stroke="#222" stroke-width="0.9"/><circle cx="658.2" cy="1126.6" r="1.6" fill="#222"/>
<path d="M754 1101.5 L769 1096 M755 1096 L768 1103" stroke="#222" stroke-width="0.9"/><circle cx="760.9" cy="1099.2" r="1.6" fill="#222"/>
</svg>
</body></html>
